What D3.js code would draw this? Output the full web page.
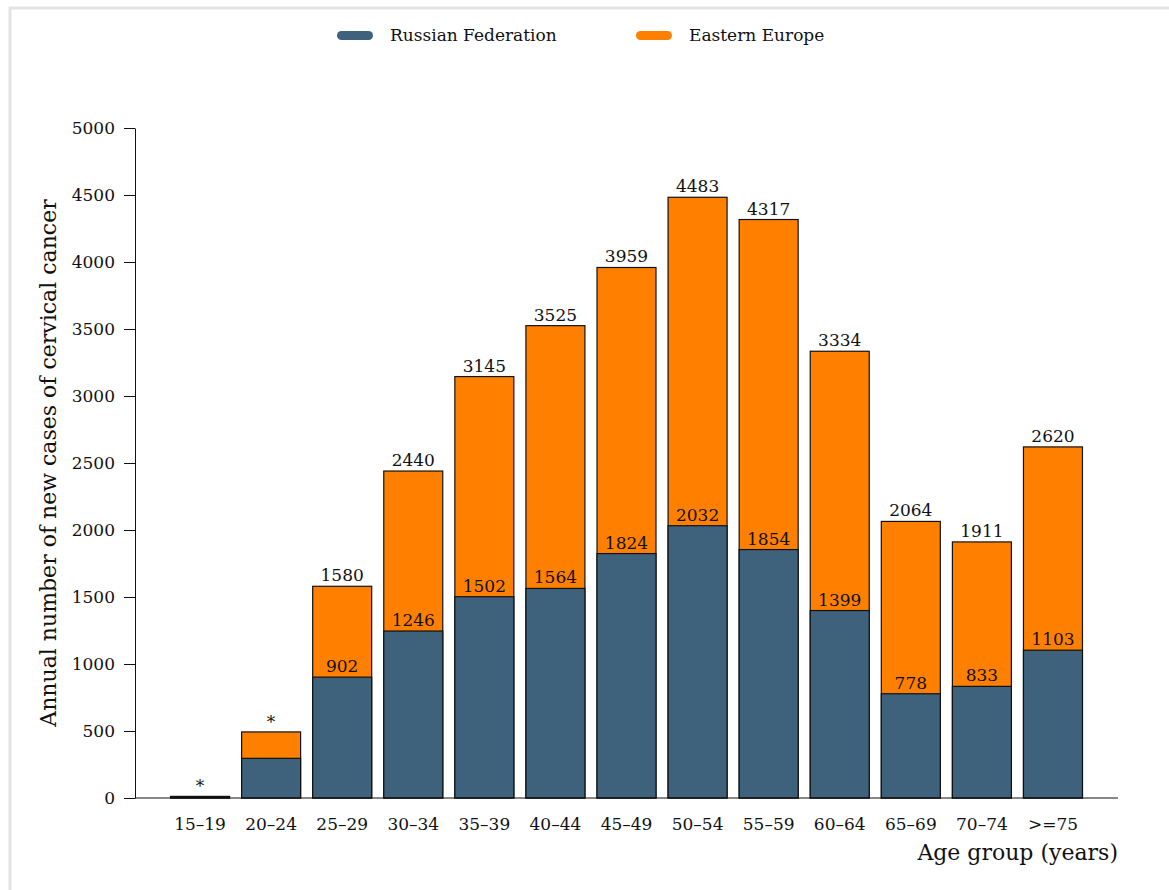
<!DOCTYPE html>
<html><head><meta charset="utf-8">
<script src="https://cdn.jsdelivr.net/npm/d3@7"></script>
<style>body{margin:0;background:#fff}svg{display:block}text{font-family:"DejaVu Serif",serif;fill:#111}</style>
</head><body>
<script>
const categories = ["15–19","20–24","25–29","30–34","35–39","40–44","45–49","50–54","55–59","60–64","65–69","70–74",">=75"];
const easternEurope = [12,493,1580,2440,3145,3525,3959,4483,4317,3334,2064,1911,2620];
const russianFederation = [7,296,902,1246,1502,1564,1824,2032,1854,1399,778,833,1103];
const totalLabels = ["*","*","1580","2440","3145","3525","3959","4483","4317","3334","2064","1911","2620"];
const rfLabels = ["","","902","1246","1502","1564","1824","2032","1854","1399","778","833","1103"];
const yTicks = [0,500,1000,1500,2000,2500,3000,3500,4000,4500,5000];
const seriesNames = ["Russian Federation","Eastern Europe"];
const colors = ["#3e627c","#ff8000"];

const W=1169,H=890;
const svg=d3.select("body").append("svg").attr("width",W).attr("height",H);
svg.append("path").attr("d","M10,900 V8 H1200").attr("fill","none").attr("stroke","#e3e3e3").attr("stroke-width",3);

const x=d3.scaleBand().domain(categories).range([135,1118]).paddingInner(0.17).paddingOuter(0.5);
const y=d3.scaleLinear().domain([0,5000]).range([798,128]);

const g=svg.append("g");
g.selectAll("rect.ee").data(categories).join("rect").attr("class","ee")
 .attr("x",d=>x(d)).attr("width",x.bandwidth())
 .attr("y",(d,i)=>y(easternEurope[i])).attr("height",(d,i)=>y(0)-y(easternEurope[i]))
 .attr("fill",colors[1]).attr("stroke","#111").attr("stroke-width",1.2);
g.selectAll("rect.rf").data(categories).join("rect").attr("class","rf")
 .attr("x",d=>x(d)).attr("width",x.bandwidth())
 .attr("y",(d,i)=>y(russianFederation[i])).attr("height",(d,i)=>y(0)-y(russianFederation[i]))
 .attr("fill",colors[0]).attr("stroke","#111").attr("stroke-width",1.2);

g.selectAll("text.tl").data(categories).join("text").attr("class","tl")
 .attr("x",d=>x(d)+x.bandwidth()/2).attr("y",(d,i)=>y(easternEurope[i])-(totalLabels[i]==="*"?4:5))
 .attr("text-anchor","middle").attr("font-size",17).text((d,i)=>totalLabels[i]);
g.selectAll("text.rl").data(categories).join("text").attr("class","rl")
 .attr("x",d=>x(d)+x.bandwidth()/2).attr("y",(d,i)=>y(russianFederation[i])-5)
 .attr("text-anchor","middle").attr("font-size",17).text((d,i)=>rfLabels[i]);

// axes
const ya=svg.append("g").attr("transform","translate(135,0)")
 .call(d3.axisLeft(y).tickValues(yTicks).tickSize(11).tickSizeOuter(0).tickPadding(9).tickFormat(d3.format("d")));
ya.selectAll("text").attr("font-size",17).attr("font-family","DejaVu Serif").attr("fill","#111");
ya.selectAll("line,path").attr("stroke","#111");
svg.append("line").attr("x1",135).attr("x2",1118).attr("y1",798).attr("y2",798).attr("stroke","#111");
const xa=svg.append("g").attr("transform","translate(0,798)")
 .call(d3.axisBottom(x).tickSize(0).tickPadding(20));
xa.select(".domain").remove();
xa.selectAll("text").attr("font-size",17).attr("font-family","DejaVu Serif").attr("fill","#111");

svg.append("text").attr("x",1118).attr("y",860).attr("text-anchor","end").attr("font-size",22).text("Age group (years)");
svg.append("text").attr("transform","translate(56,463) rotate(-90)").attr("text-anchor","middle").attr("font-size",22).text("Annual number of new cases of cervical cancer");

// legend
const lg=[{x:337,tx:390},{x:636,tx:689}];
lg.forEach((l,i)=>{
 svg.append("rect").attr("x",l.x).attr("y",31).attr("width",36).attr("height",9).attr("rx",4.5).attr("fill",colors[i]);
 svg.append("text").attr("x",l.tx).attr("y",41).attr("font-size",17).text(seriesNames[i]);
});
</script>
</body></html>
